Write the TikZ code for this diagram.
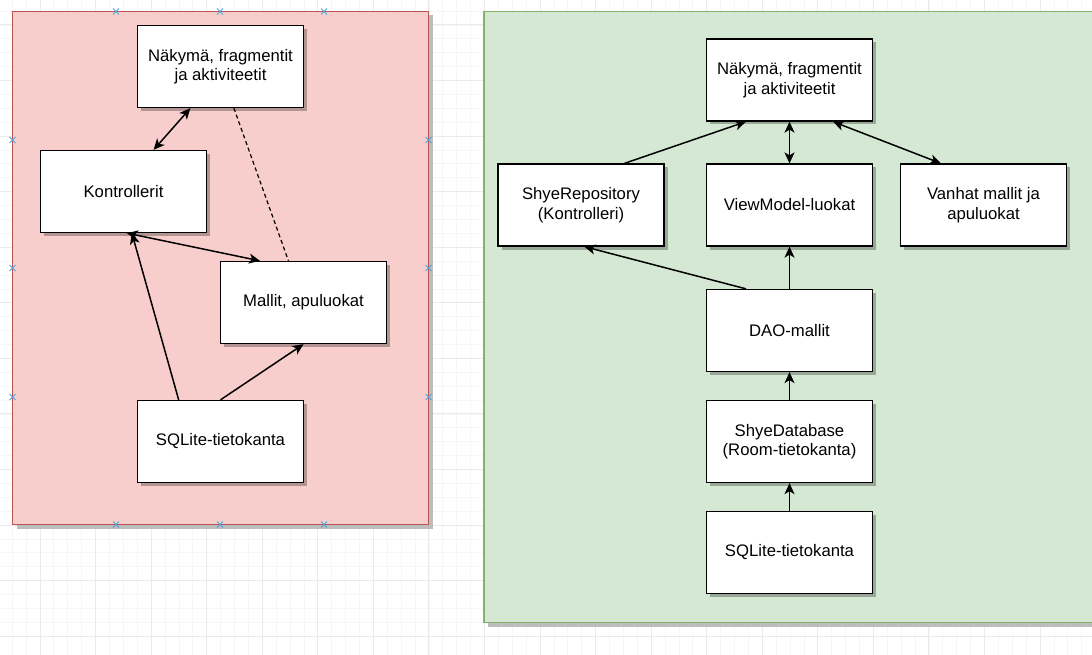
\documentclass[tikz,border=0pt]{standalone}
\usepackage{fontspec}
\setmainfont{Liberation Sans}
\usetikzlibrary{arrows.meta,shadows,calc}
\definecolor{pinkfill}{HTML}{F8CECC}
\definecolor{pinkline}{HTML}{B85450}
\definecolor{greenfill}{HTML}{D5E8D4}
\definecolor{greenline}{HTML}{82B366}
\definecolor{gridmajor}{HTML}{EAEAEA}
\definecolor{gridminor}{HTML}{F6F6F6}
\definecolor{handleblue}{HTML}{4DA6E0}
\definecolor{panelshadow}{HTML}{BDBDBD}
\begin{document}
\begin{tikzpicture}[x=1pt,y=-1pt,
  box/.style={draw=black, line width=1.3pt, fill=white,
    minimum width=166pt, minimum height=82pt, align=center, inner sep=0pt,
    font=\fontsize{16.7}{19.5}\selectfont,
    drop shadow={shadow xshift=3.5pt, shadow yshift=-3.5pt, fill=black, opacity=0.28}},
  panelbox/.style={line width=1.5pt},
  conn/.style={line width=1.5pt, draw=black},
  tip/.style={-{Stealth[length=11pt,width=10pt,inset=3pt]}},
  tips/.style={{Stealth[length=11pt,width=10pt,inset=3pt]}-{Stealth[length=11pt,width=10pt,inset=3pt]}},
  handle/.style={draw=handleblue, line width=1pt}
]
\clip (0,0) rectangle (1092,655);
\fill[white] (0,0) rectangle (1092,655);
% grid
\foreach \i in {0,...,80} {
  \draw[gridminor, line width=0.8pt] ({-15.56+13.89*\i},0) -- ++(0,655);
}
\foreach \i in {0,...,48} {
  \draw[gridminor, line width=0.8pt] (0,{-30.56+13.89*\i}) -- ++(1092,0);
}
\foreach \i in {0,...,20} {
  \draw[gridmajor, line width=1pt] ({-15.56+55.56*\i},0) -- ++(0,655);
}
\foreach \i in {0,...,12} {
  \draw[gridmajor, line width=1pt] (0,{-30.56+55.56*\i}) -- ++(1092,0);
}
% panels (shadow, then panel)
\fill[panelshadow] (16.5,15.5) rectangle (432.5,528.5);
\fill[panelshadow] (488,15.5) rectangle (1130,626.5);
\draw[panelbox, draw=pinkline, fill=pinkfill] (12.5,11.5) rectangle (428.5,524.5);
\draw[panelbox, draw=greenline, fill=greenfill] (484,11.5) rectangle (1124,622.5);
% handles on left panel
\foreach \p in {(116,11.5),(220,11.5),(324,11.5),(116,524.5),(220,524.5),(324,524.5),(12.5,140),(12.5,268),(12.5,397),(428.5,140),(428.5,268),(428.5,397)} {
  \draw[handle] \p ++(-3,-3) -- ++(6,6) \p ++(-3,3) -- ++(6,-6);
}
% left nodes
\node[box] (nak1) at (220.5,66.5) {Näkymä, fragmentit\\ja aktiviteetit};
\node[box] (kontr) at (123.5,191.5) {Kontrollerit};
\node[box] (mallit) at (303.5,302.5) {Mallit, apuluokat};
\node[box] (sql1) at (220.5,441.5) {SQLite-tietokanta};
% left connectors
\draw[conn,tips] ($(nak1.south west)!0.32!(nak1.south east)$) -- ($(kontr.north west)!0.68!(kontr.north east)$);
\draw[conn,dashed,line width=1.2pt,dash pattern=on 4pt off 3pt] ($(nak1.south west)!0.58!(nak1.south east)$) -- ($(mallit.north west)!0.41!(mallit.north east)$);
\draw[conn,tips] ($(kontr.south west)!0.52!(kontr.south east)$) -- ($(mallit.north west)!0.24!(mallit.north east)$);
\draw[conn,tip] ($(sql1.north west)!0.25!(sql1.north east)$) -- ($(kontr.south west)!0.55!(kontr.south east)$);
\draw[conn,tip] (sql1.north) -- (mallit.south);
% right nodes
\node[box] (nak2) at (789.5,80) {Näkymä, fragmentit\\ja aktiviteetit};
\node[box] (repo) at (581,205) {ShyeRepository\\(Kontrolleri)};
\node[box] (vm) at (789.5,205) {ViewModel-luokat};
\node[box] (vanhat) at (983.5,205) {Vanhat mallit ja\\apuluokat};
\node[box] (dao) at (789.5,330.5) {DAO-mallit};
\node[box] (db) at (789.5,441.5) {ShyeDatabase\\(Room-tietokanta)};
\node[box] (sql2) at (789.5,552.5) {SQLite-tietokanta};
% right connectors
\draw[conn,tip] ($(repo.north west)!0.76!(repo.north east)$) -- ($(nak2.south west)!0.24!(nak2.south east)$);
\draw[conn,tips] (nak2.south) -- (vm.north);
\draw[conn,tips] ($(nak2.south west)!0.76!(nak2.south east)$) -- ($(vanhat.north west)!0.245!(vanhat.north east)$);
\draw[conn,tip] ($(dao.north west)!0.24!(dao.north east)$) -- ($(repo.south west)!0.52!(repo.south east)$);
\draw[conn,tip] (dao.north) -- (vm.south);
\draw[conn,tip] (db.north) -- (dao.south);
\draw[conn,tip] (sql2.north) -- (db.south);
\end{tikzpicture}
\end{document}
